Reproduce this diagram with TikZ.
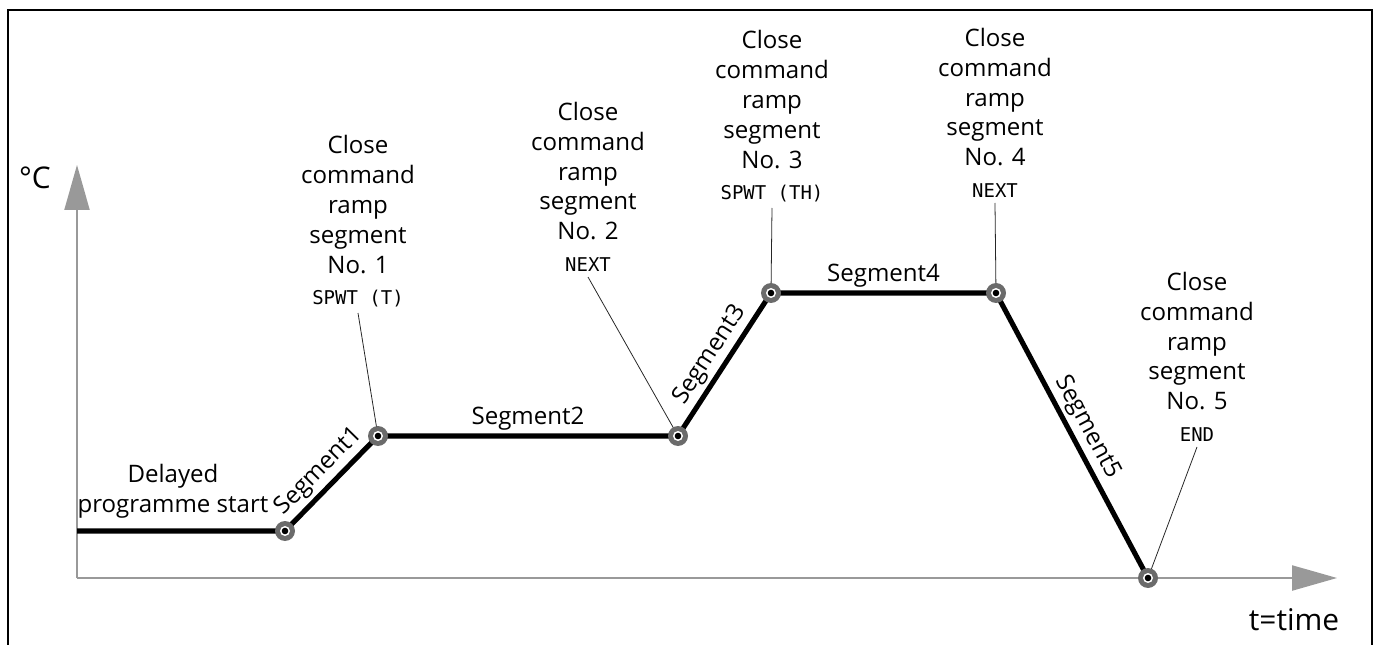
\documentclass[tikz,border=0pt]{standalone}
\usepackage{fontspec}
\setmainfont{Open Sans}
\newfontfamily\codefont{DejaVu Sans Mono}
\usetikzlibrary{arrows.meta,positioning}

\newcommand{\dispcode}[1]{{\codefont\fontsize{10.8}{13}\selectfont #1}}

\begin{document}
\begin{tikzpicture}[
  x=0.02cm, y=-0.02cm,
  axis/.style={draw=black!40, line width=1.3pt,
               -{Triangle[length=0.9cm, width=0.5cm]}},
  ramp/.style={line width=2.9pt, black, line join=round},
  leader/.style={line width=0.45pt, black!85},
  cmdlabel/.style={anchor=south, align=center, inner sep=3pt,
                   font=\fontsize{13.7}{17}\selectfont},
  seglabel/.style={font=\fontsize{13.7}{17}\selectfont, inner sep=3pt},
  axislabel/.style={font=\fontsize{17}{20}\selectfont, inner sep=0pt}
]
\useasboundingbox (0,0) rectangle (1380,645);

% frame
\draw[line width=0.9pt] (8,650) -- (8,10) -- (1372,10) -- (1372,650);

% axes
\coordinate (origin) at (77,578);
\coordinate (ytip) at (77,165);
\coordinate (xtip) at (1337,578);
\draw[axis] (origin) -- (ytip);
\draw[axis] (origin) -- (xtip);
\node[axislabel] (degc) at (35,178) {°C};
\node[axislabel] (time) at (1294,620) {t=time};

% programme profile
\coordinate (p0) at (77,531);
\coordinate (p1) at (285,531);
\coordinate (p2) at (378,436);
\coordinate (p3) at (678,436);
\coordinate (p4) at (771,293);
\coordinate (p5) at (996,293);
\coordinate (p6) at (1148,578);
\draw[ramp] (p0) -- (p1) -- (p2) -- (p3) -- (p4) -- (p5) -- (p6);

\path (p1) -- (p2) node[seglabel, midway, sloped, above] {Segment1};
\path (p2) -- (p3) node[seglabel, midway, above] {Segment2};
\path (p3) -- (p4) node[seglabel, midway, sloped, above] {Segment3};
\path (p4) -- (p5) node[seglabel, midway, above] {Segment4};
\path (p5) -- (p6) node[seglabel, midway, sloped, above] {Segment5};

\node[seglabel, align=center] (delay) at (173,491) {Delayed\\programme start};

% close command labels
\node[cmdlabel] (c1) at (358,313) {Close\\command\\ramp\\segment\\No. 1\\[1pt]\dispcode{SPWT (T)}};
\node[cmdlabel] (c2) at (588,277) {Close\\command\\ramp\\segment\\No. 2\\[1pt]\dispcode{NEXT}};
\node[cmdlabel] (c3) at (772,208) {Close\\command\\ramp\\segment\\No. 3\\[1pt]\dispcode{SPWT (TH)}};
\node[cmdlabel] (c4) at (995,203) {Close\\command\\ramp\\segment\\No. 4\\[1pt]\dispcode{NEXT}};
\node[cmdlabel] (c5) at (1197,447) {Close\\command\\ramp\\segment\\No. 5\\[1pt]\dispcode{END}};

\draw[leader] (p2) -- (c1.south);
\draw[leader] (p3) -- (c2.south);
\draw[leader] (p4) -- (c3.south);
\draw[leader] (p5) -- (c4.south);
\draw[leader] (p6) -- (c5.south);

% set points
\foreach \p in {p1,p2,p3,p4,p5,p6} {
  \fill[black!58] (\p) circle (10);
  \fill[white] (\p) circle (5);
  \fill[black] (\p) circle (3.3);
}
\end{tikzpicture}
\end{document}
